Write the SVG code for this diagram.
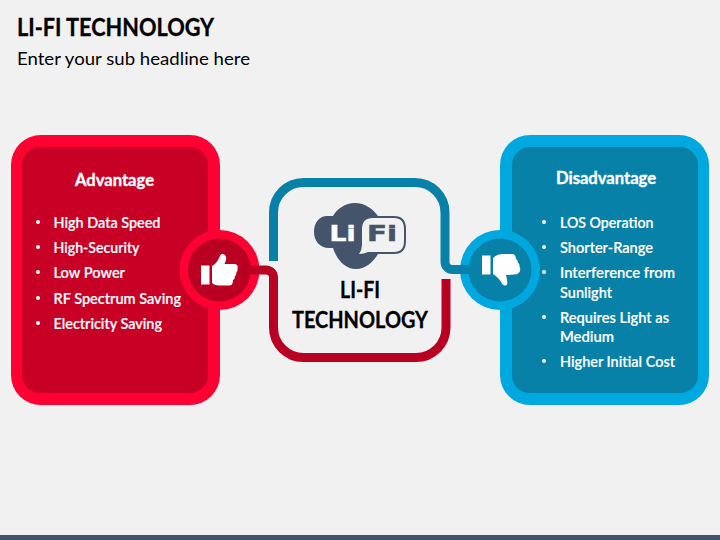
<svg xmlns="http://www.w3.org/2000/svg" width="720" height="540" viewBox="0 0 720 540">
<style>
text{font-family:"Lato","Open Sans","Liberation Sans",sans-serif}
.item{font-size:14.500px;font-weight:600;fill:#fff;stroke:#fff;stroke-width:.15}
.head{font-size:16.500px;font-weight:700;fill:#fff;stroke:#fff;stroke-width:.35}
.cen{font-size:22.500px;font-weight:700;fill:#000;stroke:#000;stroke-width:.3}
.logo{font-family:"DejaVu Sans",sans-serif;font-size:20.500px;font-weight:700;stroke-width:.5}
.link{fill:none;stroke-width:9}
.dot{fill:#fff}
</style>
<rect width="720" height="540" fill="#f1f1f1"/>
<rect y="535" width="720" height="5" fill="#44546a"/>
<text x="17" y="36" font-size="24" font-weight="700" fill="#000" stroke="#000" stroke-width=".3" textLength="197" lengthAdjust="spacingAndGlyphs">LI-FI TECHNOLOGY</text>
<text x="17" y="65" font-size="18" fill="#000" textLength="233" lengthAdjust="spacingAndGlyphs">Enter your sub headline here</text>

<g id="node-advantage">
<rect x="11" y="135" width="209" height="270" rx="30" fill="#ff0033"/>
<rect x="22" y="147" width="186" height="246" rx="18" fill="#c80026"/>
<text class="head" x="75" y="186" textLength="79" lengthAdjust="spacingAndGlyphs">Advantage</text>
<circle class="dot" cx="38" cy="222" r="2"/><text class="item" x="53.500" y="228" textLength="107" lengthAdjust="spacingAndGlyphs">High Data Speed</text>
<circle class="dot" cx="38" cy="247" r="2"/><text class="item" x="53.500" y="253" textLength="86" lengthAdjust="spacingAndGlyphs">High-Security</text>
<circle class="dot" cx="38" cy="272" r="2"/><text class="item" x="53.500" y="278" textLength="71.500" lengthAdjust="spacingAndGlyphs">Low Power</text>
<circle class="dot" cx="38" cy="298" r="2"/><text class="item" x="53.500" y="304" textLength="127.500" lengthAdjust="spacingAndGlyphs">RF Spectrum Saving</text>
<circle class="dot" cx="38" cy="323" r="2"/><text class="item" x="53.500" y="329" textLength="108.500" lengthAdjust="spacingAndGlyphs">Electricity Saving</text>
</g>

<g id="node-disadvantage">
<rect x="500" y="135" width="209" height="270" rx="30" fill="#00a8e0"/>
<rect x="512" y="147" width="186" height="246" rx="18" fill="#0881a8"/>
<text class="head" x="556" y="184" textLength="100" lengthAdjust="spacingAndGlyphs">Disadvantage</text>
<circle class="dot" cx="544" cy="222" r="2"/><text class="item" x="560" y="228" textLength="93.500" lengthAdjust="spacingAndGlyphs">LOS Operation</text>
<circle class="dot" cx="544" cy="247" r="2"/><text class="item" x="560" y="253" textLength="93" lengthAdjust="spacingAndGlyphs">Shorter-Range</text>
<circle class="dot" cx="544" cy="272" r="2"/><text class="item" x="560" y="278" textLength="115" lengthAdjust="spacingAndGlyphs">Interference from</text>
<text class="item" x="560" y="298" textLength="52" lengthAdjust="spacingAndGlyphs">Sunlight</text>
<circle class="dot" cx="544" cy="317" r="2"/><text class="item" x="560" y="323" textLength="109" lengthAdjust="spacingAndGlyphs">Requires Light as</text>
<text class="item" x="560" y="342" textLength="54" lengthAdjust="spacingAndGlyphs">Medium</text>
<circle class="dot" cx="544" cy="361" r="2"/><text class="item" x="560" y="367" textLength="115" lengthAdjust="spacingAndGlyphs">Higher Initial Cost</text>
</g>

<g id="node-center">
<path fill="#44546a" d="M333 216C337 209 345 203 355 203C365 203 373 209 378 216H394Q406 216 406 229V241Q406 254 394 254H378C373 262 366 269 356 269C345 269 337 260 333 248H329C320 248 314 241 314 232C314 223 319 216 327 216Z"/>
<path fill="#f1f1f1" d="M373 218H394Q404 218 404 229V241Q404 252 394 252H368Q364 254 359 254Q362 250 362 245V229Q362 218 373 218Z"/>
<text class="logo" x="329.500" y="241" fill="#fff" stroke="#fff" textLength="26" lengthAdjust="spacingAndGlyphs">Li</text>
<text class="logo" x="367" y="241" fill="#44546a" stroke="#44546a" textLength="30" lengthAdjust="spacingAndGlyphs">Fi</text>
<text class="cen" x="340" y="298" textLength="40" lengthAdjust="spacingAndGlyphs">LI-FI</text>
<text class="cen" x="292" y="328" textLength="136" lengthAdjust="spacingAndGlyphs">TECHNOLOGY</text>
</g>

<g id="node-thumb-up">
<circle cx="219.500" cy="270" r="40" fill="#ff0033"/>
<circle cx="219.500" cy="270" r="31.500" fill="#b90023"/>
<rect x="201" y="265.500" width="8.500" height="19" fill="#fff"/>
<path fill="#fff" d="M212 266Q217 263 219 258Q221 253 223 254Q227 255 226 260L224.500 264H235Q238.500 265 237.500 268Q238 271 236.500 272Q236.500 275 235 276Q235 279 233 280Q233 285 230 285.500H219Q214 285 212 283Z"/>
</g>

<g id="node-thumb-down">
<circle cx="500" cy="270" r="40" fill="#00a8e0"/>
<circle cx="500" cy="270" r="31.500" fill="#0881a8"/>
<rect x="482" y="255.500" width="8.500" height="19" fill="#fff"/>
<path fill="#fff" d="M493 258Q497 254 503 254H513Q516 255 516 259Q518 260 518 263Q520 264 519.500 267Q521 269 519.500 272Q518 274.500 514 274.500L506 275L507 280Q508 285 506 285.500Q503 286 501 282Q499 278 493 274Z"/>
</g>

<g id="connectors">
<path class="link" stroke="#0881a8" d="M273.500 261V212.500A30 30 0 0 1 303.500 182.500H415A30 30 0 0 1 445 212.500V262A7.500 7.500 0 0 0 452.500 269.500H470"/>
<path class="link" stroke="#b90023" d="M249 270H266A7.500 7.500 0 0 1 273.500 277.500V327.500A30 30 0 0 0 303.500 357.500H416A30 30 0 0 0 446 327.500V279"/>
</g>
</svg>
